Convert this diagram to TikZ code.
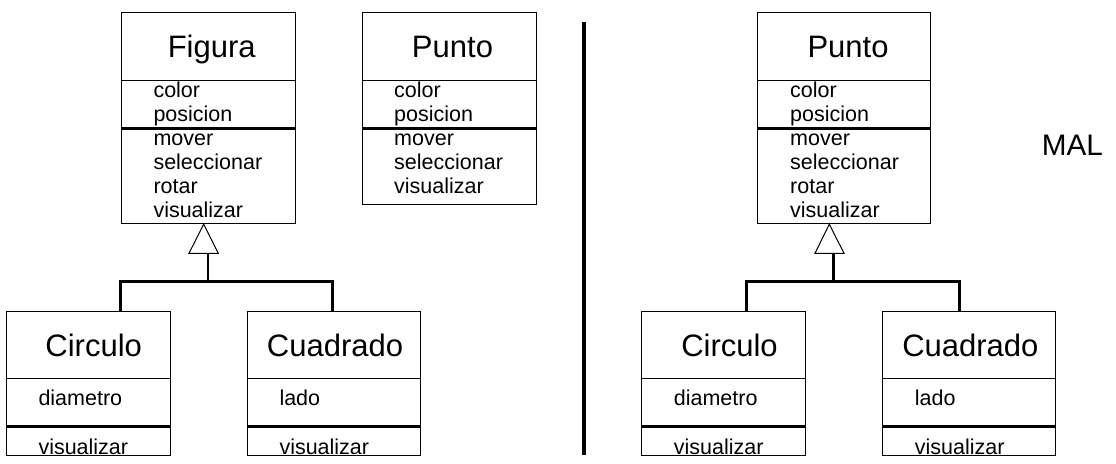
\documentclass[tikz,border=0pt]{standalone}
\usepackage{fontspec}
\setmainfont{Liberation Sans}
\tikzset{
  classbox/.style={draw, line width=1pt, rectangle, inner sep=0pt, outer sep=0pt, anchor=north west},
  ctitle/.style={font=\fontsize{31}{37}\selectfont, anchor=base, inner sep=0pt},
  cattr/.style={font=\fontsize{21.5}{24}\selectfont, anchor=base west, inner sep=0pt},
  thindiv/.style={line width=1pt},
  thickdiv/.style={line width=3pt},
  conn/.style={line width=2.5pt},
  inh/.style={line width=1pt, fill=white, line join=miter},
  sepline/.style={line width=4pt},
}
% name, x1, y1, x2, y2, div1, div2
\newcommand\drawclassbox[7]{%
  \node[classbox, minimum width={#4pt-#2pt}, minimum height={#5pt-#3pt}] (#1) at (#2,#3) {};
  \draw[thindiv] (#2,#6) -- (#4,#6);
  \draw[thickdiv] (#2,#7) -- (#4,#7);
}
\begin{document}
\begin{tikzpicture}[x=1pt,y=-1pt]
\useasboundingbox (0,0) rectangle (1116,463);

% ---------------- left half ----------------
\drawclassbox{fig}{121.7}{12.3}{295}{223.7}{80.7}{128}
\node[ctitle] (figT) at (211.7,57.5) {Figura};
\foreach \t [count=\i] in {color,posicion,mover,seleccionar,rotar,visualizar}
  \node[cattr] (figA\i) at (153.3,{97.3+24*(\i-1)}) {\t};

\drawclassbox{ptoL}{362.3}{12.3}{536}{204.7}{80.7}{128}
\node[ctitle] (ptoLT) at (452.5,57.5) {Punto};
\foreach \t [count=\i] in {color,posicion,mover,seleccionar,visualizar}
  \node[cattr] (ptoLA\i) at (394,{97.3+24*(\i-1)}) {\t};

\drawclassbox{cirL}{6.3}{311.7}{170.3}{455}{378.7}{426.7}
\node[ctitle] (cirLT) at (93.7,356) {Circulo};
\node[cattr] (cirLA1) at (38.3,405) {diametro};
\node[cattr] (cirLA2) at (38.3,454.3) {visualizar};

\drawclassbox{cuaL}{247.3}{311.7}{420.7}{455}{378.7}{426.7}
\node[ctitle] (cuaLT) at (335,356) {Cuadrado};
\node[cattr] (cuaLA1) at (279.3,405) {lado};
\node[cattr] (cuaLA2) at (279.3,454.3) {visualizar};

\coordinate (apL) at (203.7,224.2);
\coordinate (tlL) at (189,253.3);
\coordinate (trL) at (218.3,253.3);
\coordinate (stL) at (208,253.3);
\coordinate (jnL) at (208,281.7);
\coordinate (hlL) at (120.7,281.7);
\coordinate (hrL) at (332.7,281.7);
\draw[conn] (cirL.north -| hlL) -- (hlL) -- (hrL) -- (cuaL.north -| hrL);
\draw[conn] (jnL) -- (stL);
\draw[inh] (apL) -- (tlL) -- (trL) -- cycle;

% ---------------- separator ----------------
\coordinate (sepT) at (584,22);
\coordinate (sepB) at (584,455);
\draw[sepline] (sepT) -- (sepB);

% ---------------- right half ----------------
\drawclassbox{ptoR}{757.3}{12.3}{930.7}{223.7}{80.7}{128}
\node[ctitle] (ptoRT) at (848,57.5) {Punto};
\foreach \t [count=\i] in {color,posicion,mover,seleccionar,rotar,visualizar}
  \node[cattr] (ptoRA\i) at (790,{97.3+24*(\i-1)}) {\t};

\drawclassbox{cirR}{641.7}{311.7}{805.7}{455}{378.7}{426.7}
\node[ctitle] (cirRT) at (729.5,356) {Circulo};
\node[cattr] (cirRA1) at (673.7,405) {diametro};
\node[cattr] (cirRA2) at (673.7,454.3) {visualizar};

\drawclassbox{cuaR}{882.7}{311.7}{1055.7}{455}{378.7}{426.7}
\node[ctitle] (cuaRT) at (970.4,356) {Cuadrado};
\node[cattr] (cuaRA1) at (914.7,405) {lado};
\node[cattr] (cuaRA2) at (914.7,454.3) {visualizar};

\coordinate (apR) at (829.3,224.2);
\coordinate (tlR) at (815,253.3);
\coordinate (trR) at (844,253.3);
\coordinate (stR) at (833.7,253.3);
\coordinate (jnR) at (833.7,281.7);
\coordinate (hlR) at (746.7,281.7);
\coordinate (hrR) at (959.3,281.7);
\draw[conn] (cirR.north -| hlR) -- (hlR) -- (hrR) -- (cuaR.north -| hrR);
\draw[conn] (jnR) -- (stR);
\draw[inh] (apR) -- (tlR) -- (trR) -- cycle;

\node[font=\fontsize{29.7}{35}\selectfont, anchor=base west, inner sep=0pt] (mal) at (1041.7,155.7) {MAL};
\end{tikzpicture}
\end{document}
